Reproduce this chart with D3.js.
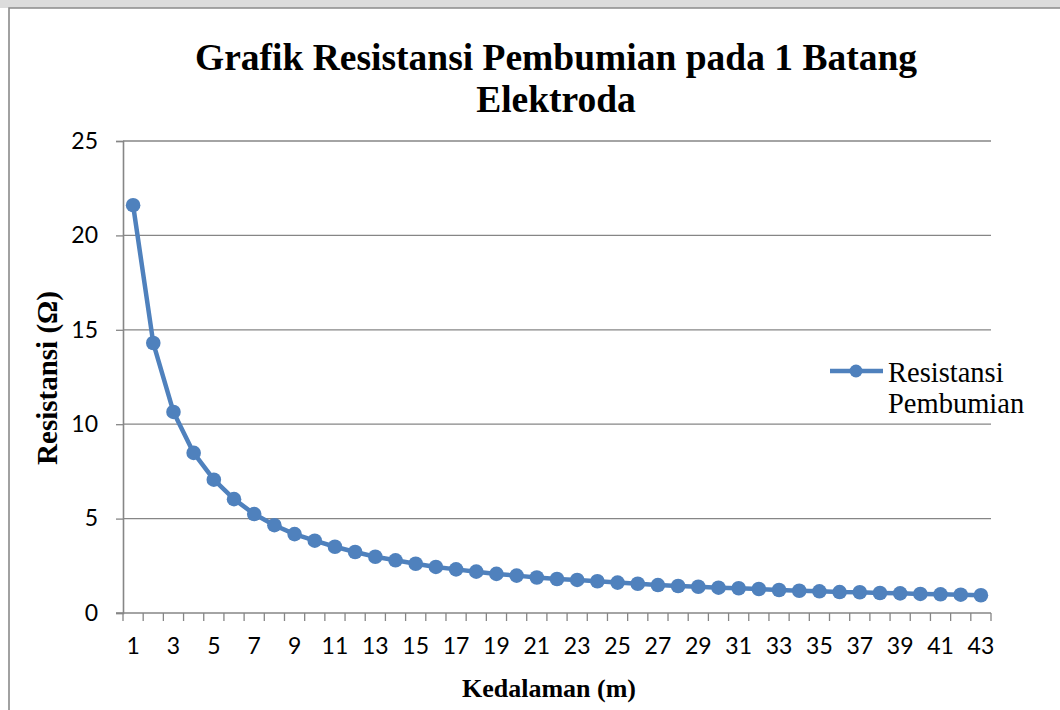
<!DOCTYPE html>
<html>
<head>
<meta charset="utf-8">
<script src="https://cdn.jsdelivr.net/npm/d3@7"></script>
<style>
  html, body { margin: 0; padding: 0; background: #fff; }
  svg { display: block; }
</style>
</head>
<body>
<svg id="chart" width="1060" height="710"></svg>
<script>
// ---- data ----
const titleLines = ["Grafik Resistansi Pembumian pada 1 Batang", "Elektroda"];
const xTitle = "Kedalaman (m)";
const yTitle = "Resistansi (Ω)";
const seriesName = ["Resistansi", "Pembumian"];
const depths = d3.range(1, 44); // categories 1..43
const resistance = [21.6, 14.3, 10.65, 8.48, 7.06, 6.03, 5.24, 4.65, 4.18, 3.83,
  3.51, 3.23, 2.98, 2.79, 2.61, 2.44, 2.31, 2.19, 2.07, 1.98,
  1.88, 1.80, 1.75, 1.68, 1.61, 1.55, 1.48, 1.43, 1.39, 1.34,
  1.31, 1.27, 1.22, 1.18, 1.15, 1.11, 1.10, 1.06, 1.04, 1.01,
  0.99, 0.97, 0.94];
const yTicks = [0, 5, 10, 15, 20, 25];
const xTickLabels = depths.filter(d => d % 2 === 1);

// ---- layout ----
const svg = d3.select("#chart");
const L = 123, R = 991, T = 141, B = 613;
const blue = "#4F81BD", grey = "#868686";

// background strip + outer border
svg.append("rect").attr("x", 0).attr("y", 0).attr("width", 1060).attr("height", 8).attr("fill", "#dcdcdc");
svg.append("path").attr("d", "M9,712 L9,8 L1062,8").attr("fill", "none")
  .attr("stroke", "#8a8a8a").attr("stroke-width", 1.6);

const x = d3.scaleBand().domain(depths).range([L, R]).padding(0);
const xb = d3.scaleLinear().domain([0, depths.length]).range([L, R]);
const y = d3.scaleLinear().domain([0, 25]).range([B, T]);

// gridlines
svg.append("g").selectAll("line").data(yTicks.filter(d => d > 0)).join("line")
  .attr("x1", L).attr("x2", R).attr("y1", d => y(d)).attr("y2", d => y(d))
  .attr("stroke", grey).attr("stroke-width", 1.3);

// y axis
const yAxis = svg.append("g").attr("transform", `translate(${L},0)`)
  .call(d3.axisLeft(y).tickValues(yTicks).tickSize(7).tickPadding(18).tickFormat(d3.format("d")));
yAxis.select(".domain").attr("stroke", grey).attr("stroke-width", 1.6);
yAxis.selectAll(".tick line").attr("stroke", grey).attr("stroke-width", 1.3);
yAxis.selectAll("text").attr("font-family", "Lato, sans-serif").attr("font-size", 23).attr("fill", "#000");

// x axis line + tick marks at category boundaries
svg.append("line").attr("x1", L - 7).attr("x2", R).attr("y1", B).attr("y2", B)
  .attr("stroke", grey).attr("stroke-width", 1.6);
svg.append("g").selectAll("line").data(d3.range(0, depths.length + 1)).join("line")
  .attr("x1", d => xb(d)).attr("x2", d => xb(d)).attr("y1", B).attr("y2", B + 8)
  .attr("stroke", grey).attr("stroke-width", 1.3);

// x tick labels
const xAxis = svg.append("g").attr("transform", `translate(0,${B})`)
  .call(d3.axisBottom(x).tickValues(xTickLabels).tickSize(0).tickPadding(25));
xAxis.select(".domain").remove();
xAxis.selectAll("text").attr("font-family", "Lato, sans-serif").attr("font-size", 23).attr("fill", "#000");

// line + markers
const cx = d => x(d) + x.bandwidth() / 2;
const pts = depths.map((d, i) => [cx(d), y(resistance[i])]);
svg.append("path").attr("d", d3.line()(pts)).attr("fill", "none")
  .attr("stroke", blue).attr("stroke-width", 4.5).attr("stroke-linejoin", "round");
svg.append("g").selectAll("circle").data(pts).join("circle")
  .attr("cx", d => d[0]).attr("cy", d => d[1]).attr("r", 7.3).attr("fill", blue);

// title
svg.append("text").attr("x", 556).attr("y", 70).attr("text-anchor", "middle")
  .attr("font-family", "'Liberation Serif', 'Times New Roman', serif").attr("font-weight", "bold")
  .attr("font-size", 37.5).attr("fill", "#000")
  .selectAll("tspan").data(titleLines).join("tspan")
  .attr("x", 556).attr("dy", (d, i) => i === 0 ? 0 : 42).text(d => d);

// axis titles
svg.append("text").attr("x", 549).attr("y", 697).attr("text-anchor", "middle")
  .attr("font-family", "'Liberation Serif', serif").attr("font-weight", "bold")
  .attr("font-size", 26).attr("fill", "#000").text(xTitle);
svg.append("text").attr("transform", "translate(57,378) rotate(-90)").attr("text-anchor", "middle")
  .attr("font-family", "'Liberation Serif', serif").attr("font-weight", "bold")
  .attr("font-size", 29).attr("fill", "#000").text(yTitle);

// legend
const lg = svg.append("g");
lg.append("line").attr("x1", 830).attr("x2", 883).attr("y1", 371).attr("y2", 371)
  .attr("stroke", blue).attr("stroke-width", 4.5);
lg.append("circle").attr("cx", 856).attr("cy", 371).attr("r", 6.5).attr("fill", blue);
lg.append("text").attr("font-family", "'Liberation Serif', serif").attr("font-size", 28.5).attr("fill", "#000")
  .selectAll("tspan").data(seriesName).join("tspan")
  .attr("x", 888).attr("y", (d, i) => 382 + i * 31).text(d => d);
</script>
</body>
</html>
